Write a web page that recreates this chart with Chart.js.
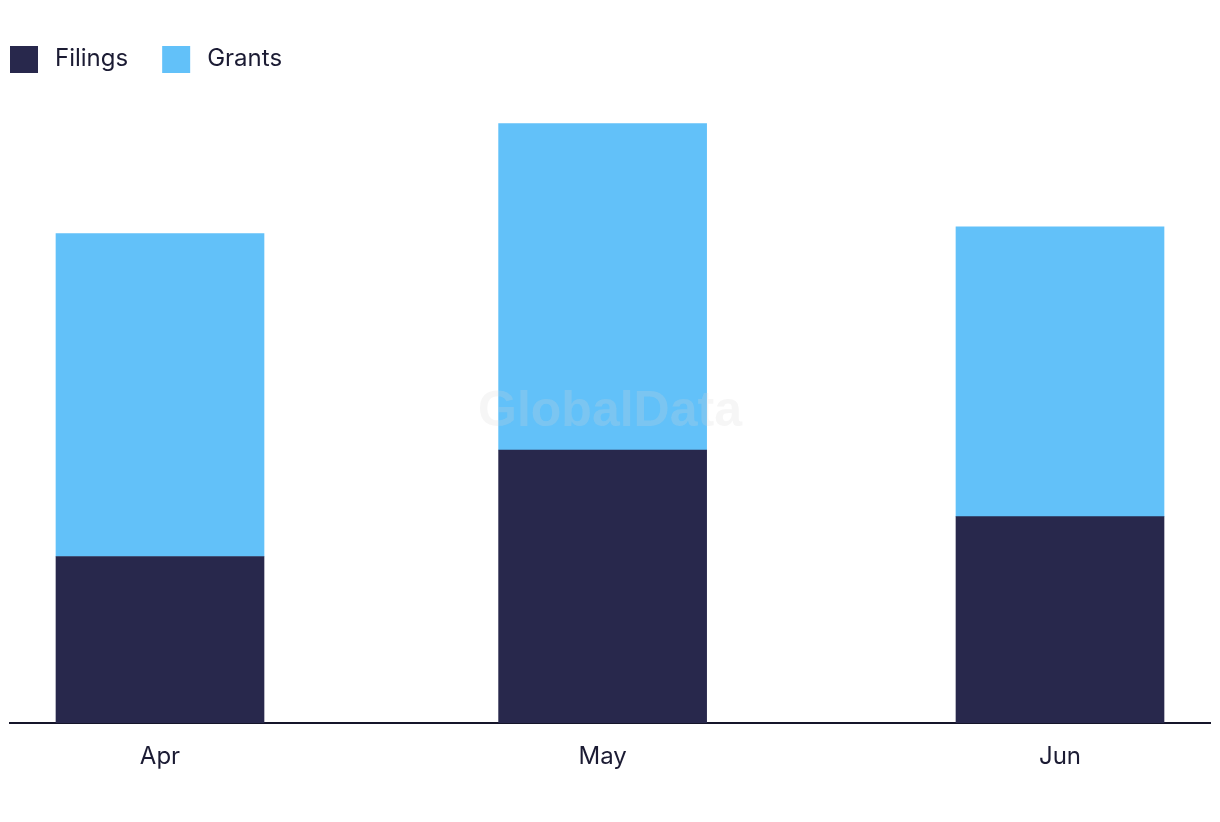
<!DOCTYPE html>
<html><head><meta charset="utf-8">
<script src="https://cdn.jsdelivr.net/npm/chart.js@4"></script>
<style>html,body{margin:0;padding:0;background:#fff}#wrap{width:1220px;height:822px;position:relative}</style>
</head><body><div id="wrap"><canvas id="c" width="1220" height="822"></canvas></div>
<script>
const categories = ["Apr", "May", "Jun"];
const categoryDates = ["2024-04-01", "2024-05-01", "2024-06-01"];
const filings = [50, 82, 62];
const grants = [97, 98, 87];
const seriesNames = ["Filings", "Grants"];
const seriesColors = ["#28284c", "#62c1f9"];

const DAY = 86400000;
const t0 = Date.parse(categoryDates[0]);
const dayPos = categoryDates.map(d => Math.round((Date.parse(d) - t0) / DAY));
const span = dayPos[dayPos.length - 1] - dayPos[0];
const pad = span / 6;

const FONT = "Inter, 'Noto Sans', sans-serif";
const TEXT = "#1b1b33";

const legendPlugin = {
  id: 'customLegend',
  afterDraw(chart) {
    const ctx = chart.ctx;
    ctx.save();
    ctx.font = "24px " + FONT;
    ctx.textBaseline = 'middle';
    let x = 10;
    chart.data.datasets.forEach(ds => {
      ctx.fillStyle = ds.backgroundColor;
      ctx.fillRect(x, 46, 28, 27);
      ctx.fillStyle = TEXT;
      ctx.fillText(ds.label, x + 45, 59);
      x += 45 + ctx.measureText(ds.label).width + 34;
    });
    ctx.restore();
  }
};
const watermark = {
  id: 'watermark',
  afterDatasetsDraw(chart) {
    const ctx = chart.ctx, a = chart.chartArea;
    ctx.save();
    ctx.font = "bold 50px 'Liberation Sans', Arial, sans-serif";
    ctx.fillStyle = "rgba(215,215,215,0.22)";
    ctx.textAlign = 'center';
    ctx.textBaseline = 'middle';
    ctx.fillText("GlobalData", (a.left + a.right) / 2, 412);
    ctx.restore();
  }
};

const chart = new Chart(document.getElementById('c'), {
  type: 'bar',
  data: {
    datasets: [
      { label: seriesNames[0], data: filings.map((v, i) => ({ x: dayPos[i], y: v })), backgroundColor: seriesColors[0] },
      { label: seriesNames[1], data: grants.map((v, i) => ({ x: dayPos[i], y: v })), backgroundColor: seriesColors[1] }
    ]
  },
  options: {
    responsive: false,
    animation: false,
    layout: { padding: { left: 10, right: 10, top: 90.4, bottom: 31.2 } },
    plugins: { legend: { display: false }, tooltip: { enabled: false } },
    datasets: { bar: { barThickness: 208 } },
    scales: {
      x: {
        type: 'linear', stacked: true, offset: false,
        min: dayPos[0] - pad, max: dayPos[dayPos.length - 1] + pad,
        grid: { display: false, drawTicks: false },
        border: { display: true, color: "#15152a", width: 2 },
        afterBuildTicks(scale) { scale.ticks = dayPos.map(v => ({ value: v })); },
        ticks: { color: TEXT, font: { size: 24, family: FONT }, padding: 19.5, maxRotation: 0, autoSkip: false,
          callback: (v, i) => categories[i] }
      },
      y: { stacked: true, display: false, min: 0, max: 190 }
    }
  },
  plugins: [legendPlugin, watermark]
});
</script></body></html>
